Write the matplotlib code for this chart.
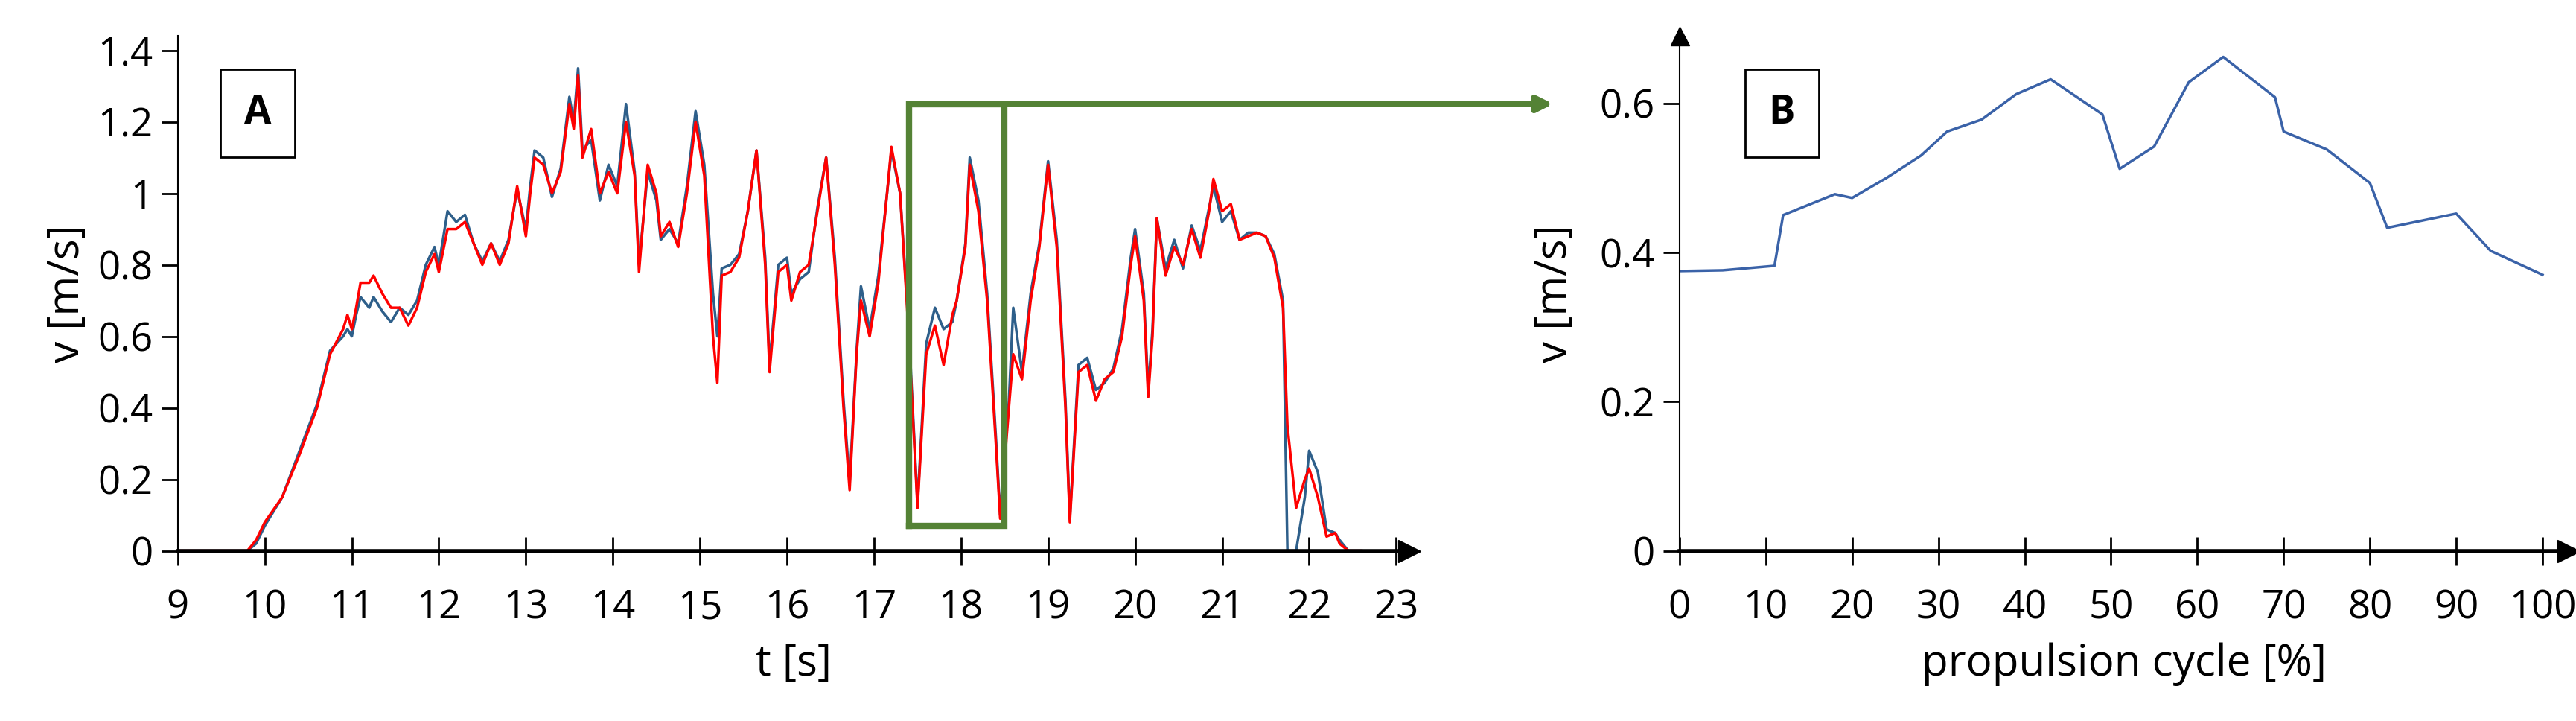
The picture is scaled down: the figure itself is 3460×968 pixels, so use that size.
import numpy as np
from matplotlib import pyplot as plt

# panel A: time [s] and velocity [m/s], red and blue traces
t_a = [9.0, 9.8, 9.9, 10.0, 10.2, 10.4, 10.6, 10.75, 10.9, 10.95, 11.0, 11.05, 11.1, 11.2, 11.25, 11.35,
       11.45, 11.55, 11.65, 11.75, 11.85, 11.95, 12.0, 12.1, 12.2, 12.3, 12.4, 12.5, 12.6, 12.7, 12.8,
       12.9, 13.0, 13.05, 13.1, 13.2, 13.3, 13.4, 13.5, 13.55, 13.6, 13.65, 13.75, 13.85, 13.95, 14.05,
       14.15, 14.25, 14.3, 14.4, 14.5, 14.55, 14.65, 14.75, 14.85, 14.95, 15.05, 15.15, 15.2, 15.25,
       15.35, 15.45, 15.55, 15.65, 15.75, 15.8, 15.9, 16.0, 16.05, 16.15, 16.25, 16.35, 16.45, 16.55,
       16.65, 16.72, 16.8, 16.85, 16.95, 17.05, 17.15, 17.2, 17.3, 17.4, 17.5, 17.6, 17.7, 17.8, 17.9,
       17.95, 18.05, 18.1, 18.2, 18.3, 18.4, 18.45, 18.55, 18.6, 18.7, 18.8, 18.9, 19.0, 19.1, 19.2,
       19.25, 19.35, 19.45, 19.55, 19.65, 19.75, 19.85, 19.95, 20.0, 20.1, 20.15, 20.2, 20.25, 20.35,
       20.45, 20.55, 20.65, 20.75, 20.85, 20.9, 21.0, 21.1, 21.2, 21.3, 21.4, 21.5, 21.6, 21.7, 21.75,
       21.85, 21.95, 22.0, 22.1, 22.2, 22.3, 22.35, 22.45, 22.6]
v_red = [0.0, 0.0, 0.03, 0.08, 0.15, 0.27, 0.40, 0.55, 0.62, 0.66, 0.62, 0.68, 0.75, 0.75, 0.77, 0.72,
         0.68, 0.68, 0.63, 0.68, 0.78, 0.83, 0.78, 0.90, 0.90, 0.92, 0.86, 0.80, 0.86, 0.80, 0.86,
         1.02, 0.88, 1.00, 1.10, 1.08, 1.00, 1.06, 1.25, 1.18, 1.33, 1.10, 1.18, 1.00, 1.06, 1.00,
         1.20, 1.05, 0.78, 1.08, 1.00, 0.88, 0.92, 0.85, 1.00, 1.20, 1.05, 0.60, 0.47, 0.77,
         0.78, 0.82, 0.95, 1.12, 0.80, 0.50, 0.78, 0.80, 0.70, 0.78, 0.80, 0.95, 1.10, 0.80,
         0.40, 0.17, 0.55, 0.70, 0.60, 0.75, 1.00, 1.13, 1.00, 0.60, 0.12, 0.55, 0.63, 0.52, 0.66,
         0.70, 0.85, 1.08, 0.95, 0.70, 0.30, 0.09, 0.40, 0.55, 0.48, 0.70, 0.85, 1.08, 0.85, 0.40,
         0.08, 0.50, 0.52, 0.42, 0.48, 0.50, 0.60, 0.80, 0.88, 0.70, 0.43, 0.60, 0.93, 0.77,
         0.85, 0.80, 0.90, 0.82, 0.95, 1.04, 0.95, 0.97, 0.87, 0.88, 0.89, 0.88, 0.82, 0.68, 0.35,
         0.12, 0.20, 0.23, 0.15, 0.04, 0.05, 0.02, 0.0, 0.0]
v_blue = [0.0, 0.0, 0.02, 0.07, 0.15, 0.28, 0.41, 0.56, 0.60, 0.62, 0.60, 0.66, 0.71, 0.68, 0.71, 0.67,
          0.64, 0.68, 0.66, 0.70, 0.80, 0.85, 0.80, 0.95, 0.92, 0.94, 0.86, 0.81, 0.86, 0.81, 0.87,
          1.01, 0.90, 1.02, 1.12, 1.10, 0.99, 1.07, 1.27, 1.20, 1.35, 1.12, 1.15, 0.98, 1.08, 1.02,
          1.25, 1.06, 0.80, 1.06, 0.98, 0.87, 0.90, 0.86, 1.02, 1.23, 1.08, 0.72, 0.60, 0.79,
          0.80, 0.83, 0.95, 1.12, 0.82, 0.52, 0.80, 0.82, 0.72, 0.76, 0.78, 0.96, 1.10, 0.82,
          0.42, 0.19, 0.56, 0.74, 0.62, 0.77, 1.00, 1.12, 1.00, 0.62, 0.13, 0.58, 0.68, 0.62, 0.64,
          0.70, 0.86, 1.10, 0.98, 0.72, 0.32, 0.10, 0.42, 0.68, 0.50, 0.72, 0.86, 1.09, 0.87, 0.42,
          0.09, 0.52, 0.54, 0.45, 0.47, 0.51, 0.62, 0.82, 0.90, 0.72, 0.45, 0.62, 0.93, 0.79,
          0.87, 0.79, 0.91, 0.84, 0.96, 1.02, 0.92, 0.95, 0.87, 0.89, 0.89, 0.88, 0.83, 0.70, 0.0,
          0.0, 0.15, 0.28, 0.22, 0.06, 0.05, 0.03, 0.0, 0.0]

# panel B: propulsion cycle [%] and mean velocity [m/s]
cycle_b = [0, 5, 11, 12, 18, 20, 24, 28, 31, 35, 39, 43, 49, 51, 55, 59, 63, 69, 70, 75, 80, 82, 90, 94, 100]
v_b = [0.375, 0.376, 0.382, 0.450, 0.478, 0.473, 0.500, 0.530, 0.562, 0.578, 0.612, 0.632, 0.585, 0.512,
       0.542, 0.628, 0.662, 0.608, 0.562, 0.538, 0.493, 0.433, 0.452, 0.402, 0.370]

plt.rcParams['font.family'] = ['Open Sans', 'DejaVu Sans']
FS = 38
GREEN = '#548235'

fig = plt.figure(figsize=(34.6, 9.68), dpi=100)
ax_a = fig.add_axes([0.069, 0.236, 0.473 * 14.15 / 14, 0.714])
ax_b = fig.add_axes([0.652, 0.236, 0.335 * 103 / 100, 0.714])


def style_axis(ax):
    for s in ['top', 'right']:
        ax.spines[s].set_visible(False)
    ax.spines['left'].set_linewidth(1.5)
    ax.spines['bottom'].set_linewidth(4)
    ax.tick_params(axis='x', direction='inout', length=28, width=2, labelsize=FS, pad=22)
    ax.tick_params(axis='y', direction='out', length=16, width=2, labelsize=FS, pad=8)
    ax.plot(1, 0, '>k', ms=22, transform=ax.get_yaxis_transform(), clip_on=False)
    ax.plot(0, 1, '^k', ms=18, transform=ax.get_xaxis_transform(), clip_on=False)


ax_a.plot(t_a, v_blue, color='#2e5f8a', lw=2.5)
ax_a.plot(t_a, v_red, color='red', lw=2.5)
ax_a.set_xlim(9, 23.15)
ax_a.set_ylim(0, 1.44)
ax_a.set_xticks(range(9, 24))
ax_a.set_yticks([0, 0.2, 0.4, 0.6, 0.8, 1, 1.2, 1.4])
ax_a.set_yticklabels(['0', '0.2', '0.4', '0.6', '0.8', '1', '1.2', '1.4'])
ax_a.set_xlabel('t [s]', fontsize=FS + 4, labelpad=14)
ax_a.set_ylabel('v [m/s]', fontsize=FS + 4, labelpad=8)
style_axis(ax_a)
ax_a.text(0.065, 0.85, 'A', transform=ax_a.transAxes, fontsize=FS, fontweight='bold', ha='center',
          va='center', bbox=dict(boxstyle='square,pad=0.6', fc='white', ec='black', lw=2))

# zoom box and connector arrow
ax_a.plot([17.4, 17.4, 18.5, 18.5, 17.4], [0.07, 1.25, 1.25, 0.07, 0.07], color=GREEN, lw=6,
          solid_joinstyle='miter', clip_on=False)
ax_a.annotate('', xy=(0.603, 1.25), xycoords=('figure fraction', 'data'), xytext=(18.5, 1.25),
              textcoords='data', annotation_clip=False,
              arrowprops=dict(arrowstyle='-|>,head_length=1.2,head_width=0.6', color=GREEN, lw=6,
                              shrinkA=0, shrinkB=0))

ax_b.plot(cycle_b, v_b, color='#3a62a8', lw=2.5)
ax_b.set_xlim(0, 103)
ax_b.set_ylim(0, 0.69)
ax_b.set_xticks(range(0, 101, 10))
ax_b.set_yticks([0, 0.2, 0.4, 0.6])
ax_b.set_yticklabels(['0', '0.2', '0.4', '0.6'])
ax_b.set_xlabel('propulsion cycle [%]', fontsize=FS + 4, labelpad=14)
ax_b.set_ylabel('v [m/s]', fontsize=FS + 4, labelpad=22)
style_axis(ax_b)
ax_b.text(0.115, 0.85, 'B', transform=ax_b.transAxes, fontsize=FS, fontweight='bold', ha='center',
          va='center', bbox=dict(boxstyle='square,pad=0.6', fc='white', ec='black', lw=2))

fig.savefig('out.png', dpi=100)
